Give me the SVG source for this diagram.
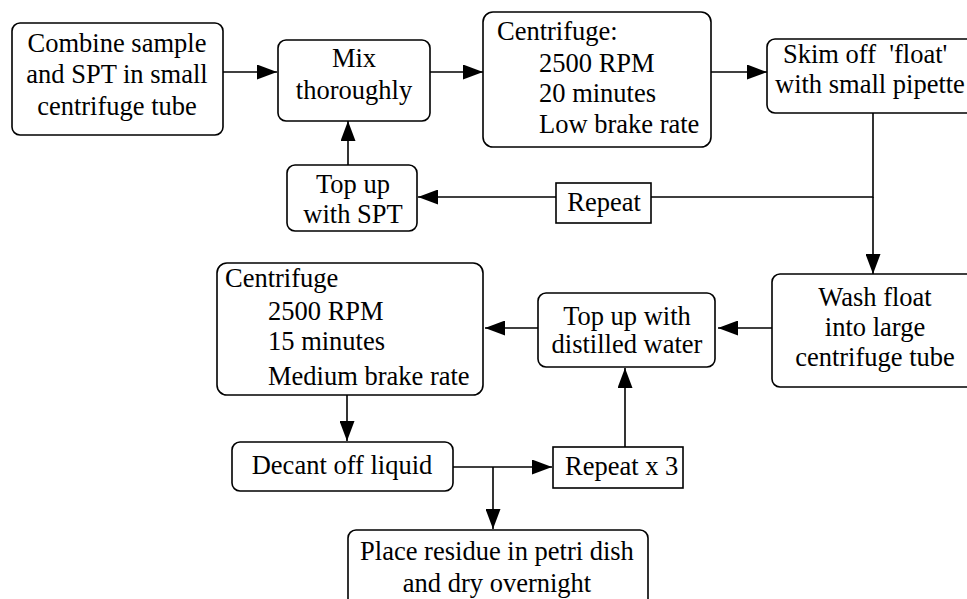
<svg xmlns="http://www.w3.org/2000/svg" width="967" height="599" viewBox="0 0 967 599">
<style>
.box{fill:#fff;stroke:#000;stroke-width:1.6}
.t{font-family:"Liberation Serif","Times New Roman",serif;font-size:26.5px;fill:#000}
.c{text-anchor:middle}
.ln{fill:none;stroke:#000;stroke-width:1.6}
</style>
<defs>
<marker id="ah" markerUnits="userSpaceOnUse" markerWidth="20" markerHeight="15" refX="20" refY="7.5" orient="auto">
<path d="M0,0 L20,7.5 L0,15 z" fill="#000"/>
</marker>
</defs>
<rect width="967" height="599" fill="#fff"/>
<g id="connectors">
<line class="ln" x1="223" y1="72" x2="277" y2="72" marker-end="url(#ah)"/>
<line class="ln" x1="430" y1="72" x2="483" y2="72" marker-end="url(#ah)"/>
<line class="ln" x1="711" y1="72" x2="767" y2="72" marker-end="url(#ah)"/>
<polyline class="ln" points="873,113 873,197 651,197"/>
<line class="ln" x1="873" y1="197" x2="873" y2="274" marker-end="url(#ah)"/>
<line class="ln" x1="556" y1="197" x2="418" y2="197" marker-end="url(#ah)"/>
<line class="ln" x1="348" y1="165" x2="348" y2="121" marker-end="url(#ah)"/>
<line class="ln" x1="772" y1="328" x2="718" y2="328" marker-end="url(#ah)"/>
<line class="ln" x1="538" y1="328" x2="485" y2="328" marker-end="url(#ah)"/>
<line class="ln" x1="347" y1="395" x2="347" y2="441" marker-end="url(#ah)"/>
<line class="ln" x1="453" y1="467" x2="552" y2="467" marker-end="url(#ah)"/>
<line class="ln" x1="493" y1="467" x2="493" y2="529" marker-end="url(#ah)"/>
<line class="ln" x1="625" y1="447" x2="625" y2="368" marker-end="url(#ah)"/>
</g>
<g id="combine">
<rect class="box" x="12" y="23" width="211" height="112" rx="8"/>
<text class="t c" x="117" y="52">Combine sample</text>
<text class="t c" x="117" y="83">and SPT in small</text>
<text class="t c" x="117" y="115">centrifuge tube</text>
</g>
<g id="mix">
<rect class="box" x="278" y="40" width="152" height="81" rx="8"/>
<text class="t c" x="354" y="67">Mix</text>
<text class="t c" x="354" y="99">thoroughly</text>
</g>
<g id="centrifuge1">
<rect class="box" x="483" y="12" width="228" height="135" rx="10"/>
<text class="t" x="497" y="40">Centrifuge:</text>
<text class="t" x="539" y="72">2500 RPM</text>
<text class="t" x="539" y="102">20 minutes</text>
<text class="t" x="539" y="133">Low brake rate</text>
</g>
<g id="skim">
<rect class="box" x="767" y="39" width="215" height="74" rx="8"/>
<text class="t" x="783" y="63" xml:space="preserve">Skim off  'float'</text>
<text class="t" x="775" y="93">with small pipette</text>
</g>
<g id="topup-spt">
<rect class="box" x="287" y="165" width="130" height="66" rx="8"/>
<text class="t c" x="353" y="193">Top up</text>
<text class="t c" x="353" y="223">with SPT</text>
</g>
<g id="repeat1">
<rect class="box" x="556" y="183" width="95" height="40"/>
<text class="t c" x="604" y="211">Repeat</text>
</g>
<g id="wash">
<rect class="box" x="772" y="274" width="210" height="113" rx="8"/>
<text class="t c" x="875" y="306">Wash float</text>
<text class="t c" x="875" y="336">into large</text>
<text class="t c" x="875" y="366">centrifuge tube</text>
</g>
<g id="topup-water">
<rect class="box" x="538" y="293" width="177" height="74" rx="8"/>
<text class="t c" x="627" y="325">Top up with</text>
<text class="t c" x="627" y="353">distilled water</text>
</g>
<g id="centrifuge2">
<rect class="box" x="217" y="263" width="266" height="132" rx="10"/>
<text class="t" x="225" y="287">Centrifuge</text>
<text class="t" x="268" y="320">2500 RPM</text>
<text class="t" x="268" y="350">15 minutes</text>
<text class="t" x="268" y="385">Medium brake rate</text>
</g>
<g id="decant">
<rect class="box" x="232" y="442" width="221" height="49" rx="8"/>
<text class="t c" x="342" y="474">Decant off liquid</text>
</g>
<g id="repeat3">
<rect class="box" x="553" y="447" width="130" height="41"/>
<text class="t" x="565" y="475">Repeat x 3</text>
</g>
<g id="residue">
<rect class="box" x="348" y="530" width="300" height="80" rx="8"/>
<text class="t c" x="497" y="560">Place residue in petri dish</text>
<text class="t c" x="497" y="592">and dry overnight</text>
</g>
</svg>
